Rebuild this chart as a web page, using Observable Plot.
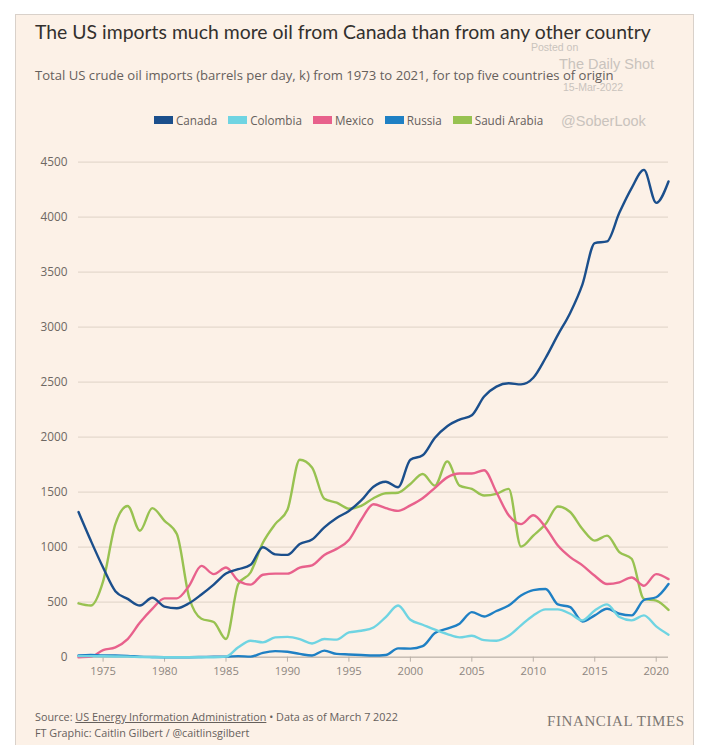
<!DOCTYPE html>
<html>
<head>
<meta charset="utf-8">
<script src="https://cdn.jsdelivr.net/npm/d3@7"></script>
<script src="https://cdn.jsdelivr.net/npm/@observablehq/plot@0.6"></script>
<style>
  html, body { margin: 0; padding: 0; background: #ffffff; }
  #page { position: relative; width: 726px; height: 745px; overflow: hidden; font-family: "Open Sans", sans-serif; }
  #panel { position: absolute; left: 15px; top: 14px; width: 679px; height: 740px; background: #fcf1e7; border: 1px solid #d9d1ca; box-sizing: border-box; }
  .abs { position: absolute; white-space: nowrap; }
  #title { left: 35px; top: 20px; font-size: 19.4px; color: #33302e; font-family: "Lato", sans-serif; }
  #subtitle { left: 35px; top: 66px; font-size: 13.1px; color: #66605c; }
  #legend { left: 154px; top: 112px; display: flex; align-items: center; font-size: 11.7px; color: #66605c; }
  #legend .item { display: flex; align-items: center; margin-right: 11px; }
  #legend .sw { width: 19px; height: 8px; margin-right: 3px; }
  .wm { color: #c9c3bd; font-family: "Liberation Sans", sans-serif; }
  #chart { position: absolute; left: 0; top: 140px; }
  #source { left: 35px; top: 709px; font-size: 10.8px; color: #66605c; }
  #source u { text-decoration: underline; }
  #credit { left: 35px; top: 725px; font-size: 10.8px; color: #66605c; }
  #ft { left: 547px; top: 713px; font-size: 15px; color: #7d7873; font-family: "Liberation Serif", "DejaVu Serif", serif; letter-spacing: 0.6px; }
</style>
</head>
<body>
<div id="page">
  <div id="panel"></div>
  <div id="title" class="abs">The US imports much more oil from Canada than from any other country</div>
  <div id="subtitle" class="abs">Total US crude oil imports (barrels per day, k) from 1973 to 2021, for top five countries of origin</div>
  <div class="abs wm" style="left:531px;top:41px;font-size:10.5px;">Posted on</div>
  <div class="abs wm" style="left:559px;top:56px;font-size:14.5px;">The Daily Shot</div>
  <div class="abs wm" style="left:563px;top:81px;font-size:10.5px;">15-Mar-2022</div>
  <div class="abs wm" style="left:561px;top:113px;font-size:14.5px;">@SoberLook</div>
  <div id="legend" class="abs"></div>
  <div id="chart"></div>
  <div id="source" class="abs">Source: <u>US Energy Information Administration</u> • Data as of March 7 2022</div>
  <div id="credit" class="abs">FT Graphic: Caitlin Gilbert / @caitlinsgilbert</div>
  <div id="ft" class="abs">FINANCIAL TIMES</div>
</div>
<script>
// Crude oil imports, thousand barrels per day, 1973–2021
const years = [1973, 1974, 1975, 1976, 1977, 1978, 1979, 1980, 1981, 1982,
  1983, 1984, 1985, 1986, 1987, 1988, 1989, 1990, 1991, 1992,
  1993, 1994, 1995, 1996, 1997, 1998, 1999, 2000, 2001, 2002,
  2003, 2004, 2005, 2006, 2007, 2008, 2009, 2010, 2011, 2012,
  2013, 2014, 2015, 2016, 2017, 2018, 2019, 2020, 2021];

const countries = ["Canada", "Colombia", "Mexico", "Russia", "Saudi Arabia"];
const colors = ["#1b4f8c", "#6fd4e2", "#e8618c", "#1f80c4", "#98c251"];

const canada = [1320, 1060, 815, 600, 530, 470, 540, 460, 445, 490,
  570, 660, 760, 800, 840, 1000, 935, 930, 1030, 1070,
  1180, 1265, 1330, 1425, 1550, 1595, 1545, 1795, 1835, 1995,
  2100, 2160, 2200, 2370, 2460, 2490, 2480, 2540, 2720, 2930,
  3130, 3390, 3765, 3780, 4040, 4265, 4430, 4130, 4325];

const colombia = [10, 10, 8, 6, 5, 2, 0, 0, 0, 0,
  0, 0, 5, 90, 150, 135, 180, 185, 165, 125,
  165, 160, 225, 240, 270, 365, 470, 340, 295, 250,
  210, 180, 195, 155, 150, 195, 290, 380, 435, 435,
  395, 335, 425, 480, 365, 335, 380, 280, 205];

const mexico = [0, 5, 65, 90, 165, 315, 440, 535, 535, 650,
  830, 755, 815, 695, 660, 750, 760, 760, 815, 835,
  930, 985, 1065, 1250, 1390, 1355, 1330, 1380, 1445, 1540,
  1635, 1670, 1670, 1700, 1500, 1290, 1210, 1290, 1180, 1015,
  910, 835, 740, 665, 680, 725, 650, 755, 710];

const russia = [15, 20, 15, 15, 12, 5, 2, 0, 0, 0,
  2, 5, 5, 10, 5, 40, 55, 50, 30, 15,
  60, 30, 25, 20, 15, 20, 80, 78, 100, 220,
  260, 305, 410, 370, 420, 470, 560, 610, 620, 480,
  455, 325, 380, 440, 395, 380, 520, 545, 665];

const saudi = [490, 470, 690, 1210, 1375, 1150, 1355, 1240, 1120, 545,
  350, 320, 165, 665, 770, 1040, 1210, 1340, 1795, 1725,
  1440, 1405, 1350, 1375, 1445, 1490, 1495, 1575, 1665, 1560,
  1780, 1560, 1530, 1470, 1485, 1530, 1005, 1105, 1210, 1370,
  1320, 1165, 1060, 1105, 955, 895, 530, 515, 430];

const yTicks = [0, 500, 1000, 1500, 2000, 2500, 3000, 3500, 4000, 4500];
const xTicks = [1975, 1980, 1985, 1990, 1995, 2000, 2005, 2010, 2015, 2020];

const series = {"Canada": canada, "Colombia": colombia, "Mexico": mexico, "Russia": russia, "Saudi Arabia": saudi};
const drawOrder = ["Saudi Arabia", "Mexico", "Russia", "Colombia", "Canada"];
const rows = drawOrder.flatMap(c => years.map((year, i) => ({year, country: c, value: series[c][i]})));

// Legend swatches
const legend = document.getElementById("legend");
countries.forEach((c, i) => {
  const item = document.createElement("div");
  item.className = "item";
  item.innerHTML = `<span class="sw" style="background:${colors[i]}"></span><span>${c}</span>`;
  legend.appendChild(item);
});

const chart = Plot.plot({
  width: 726,
  height: 560,
  marginLeft: 78,
  marginRight: 58,
  marginTop: 21.7,
  marginBottom: 43.3,
  style: {background: "transparent", fontFamily: "'Open Sans', sans-serif", fontSize: "12px", color: "#66605c"},
  x: {domain: [1973, 2021]},
  y: {domain: [0, 4500]},
  color: {domain: countries, range: colors},
  marks: [
    Plot.gridY(yTicks, {stroke: "#e4d8cd", strokeOpacity: 1, strokeWidth: 1.2}),
    Plot.axisY(yTicks, {tickSize: 0, tickPadding: 11, tickFormat: d => String(d), fontSize: 11.8, fill: "#6e6863", label: null}),
    Plot.ruleY([0], {stroke: "#b9b0a8", strokeWidth: 1}),
    Plot.axisX(xTicks, {tickSize: 5, tickPadding: 5, tickFormat: d => String(d), fontSize: 11.2, fill: "#8d8680", stroke: "#b9b0a8", label: null}),
    Plot.line(rows, {x: "year", y: "value", z: "country", stroke: "country", strokeWidth: 2.4, curve: "monotone-x", strokeLinejoin: "round", strokeLinecap: "round"})
  ]
});
document.getElementById("chart").appendChild(chart);
</script>
</body>
</html>
